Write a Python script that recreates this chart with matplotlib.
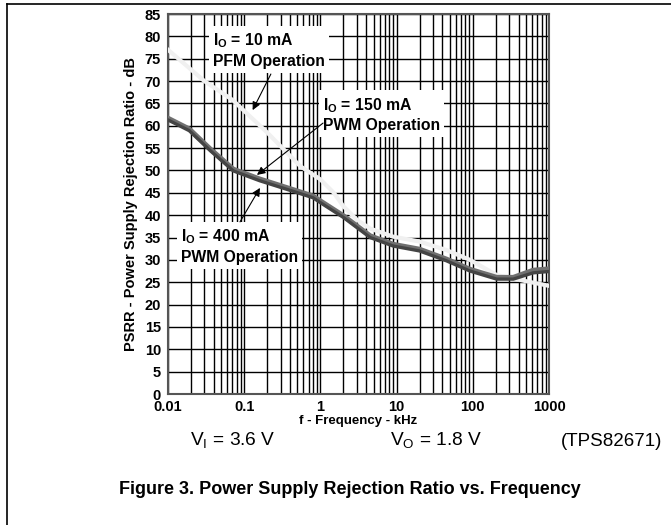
import numpy as np
import matplotlib
matplotlib.use('Agg')
import matplotlib.pyplot as plt
from matplotlib.lines import Line2D
from matplotlib.ticker import FixedLocator, NullFormatter

plt.rcParams['font.family'] = 'Liberation Sans'
plt.rcParams['mathtext.fontset'] = 'custom'
plt.rcParams['mathtext.rm'] = 'Liberation Sans'
plt.rcParams['mathtext.bf'] = 'Liberation Sans:bold'

freq_10ma = [0.01, 0.03, 0.07, 0.2, 0.54, 1.0, 1.5, 2.0, 3.0, 4.5, 9.0, 20.0,
             45.0, 92.0, 206.0, 417.0, 1000.0]
psrr_10ma = [77.0, 70.0, 65.8, 58.5, 51.0, 48.0, 45.0, 42.0, 39.0, 37.0, 35.2,
             34.1, 32.2, 30.0, 26.6, 25.5, 24.2]

freq_150ma = [0.01, 0.019, 0.036, 0.072, 0.16, 0.36, 0.8, 1.0, 2.0, 4.5, 9.0,
              20.0, 45.0, 92.0, 206.0, 340.0, 620.0, 1000.0]
psrr_150ma = [61.7, 59.3, 54.8, 50.3, 48.1, 46.2, 44.3, 43.2, 39.9, 35.4, 33.5,
              32.4, 30.2, 27.9, 26.1, 26.1, 27.7, 28.0]
psrr_400ma = [61.3, 58.9, 54.4, 49.9, 47.7, 45.8, 43.9, 42.8, 39.5, 35.0, 33.1,
              32.0, 29.8, 27.5, 25.7, 25.7, 27.1, 27.4]

yticks = list(range(0, 90, 5))
xticks = [0.01, 0.1, 1, 10, 100, 1000]
xticklabels = ['0.01', '0.1', '1', '10', '100', '1000']

fig = plt.figure(figsize=(6.71, 5.25), dpi=100)
ax = fig.add_axes([168 / 671, 1 - 394 / 525, 381 / 671, 380 / 525])

ax.set_xscale('log')
ax.set_xlim(0.01, 1000)
ax.set_ylim(0, 85)

minors = [m * 10.0 ** e for e in range(-2, 3) for m in range(2, 10)]
ax.xaxis.set_major_locator(FixedLocator(xticks))
ax.xaxis.set_minor_locator(FixedLocator(minors))
ax.xaxis.set_minor_formatter(NullFormatter())
ax.set_xticklabels(xticklabels)
ax.set_yticks(yticks)
ax.grid(True, which='both', axis='x', color='black', lw=1.0)
ax.grid(True, which='major', axis='y', color='black', lw=1.0)
ax.set_axisbelow(True)
ax.tick_params(which='both', length=0, labelsize=10.5)
ax.tick_params(axis='x', pad=4)
ax.tick_params(axis='y', pad=5)
for lab in ax.get_xticklabels() + ax.get_yticklabels():
    lab.set_fontweight('bold')
for sp in ax.spines.values():
    sp.set_color('#555555')
    sp.set_linewidth(1.5)

ax.plot(freq_10ma, psrr_10ma, color='#f0f0f0', lw=3, zorder=3)
ax.plot(freq_150ma, psrr_150ma, color='#707070', lw=3.5, zorder=4)
ax.plot(freq_150ma, psrr_400ma, color='#444444', lw=2.4, zorder=5)

ax.set_xlabel('f - Frequency - kHz', fontsize=9.5, fontweight='bold', labelpad=1)
ax.set_ylabel('PSRR - Power Supply Rejection Ratio - dB', fontsize=10.5,
              fontweight='bold', labelpad=5)

box = dict(boxstyle='square,pad=0.25', fc='white', ec='none')
arrow = dict(arrowstyle='-|>', color='black', lw=0.8, mutation_scale=12,
             shrinkA=0, shrinkB=0)
notes = [
    (r'I$_{\mathbf{O}}$ = 10 mA' + '\nPFM Operation', (0.118, 0.905),
     (0.129, 63.5), (0.270, 0.842)),
    (r'I$_{\mathbf{O}}$ = 150 mA' + '\nPWM Operation', (0.407, 0.735),
     (0.147, 49.0), (0.407, 0.713)),
    (r'I$_{\mathbf{O}}$ = 400 mA' + '\nPWM Operation', (0.034, 0.389),
     (0.161, 46.1), (0.189, 0.453)),
]
for txt, pos, tip, tail in notes:
    ax.annotate('', xy=tip, xycoords='data', xytext=tail,
                textcoords='axes fraction', arrowprops=arrow, zorder=7)
    ax.text(pos[0], pos[1], txt, transform=ax.transAxes, ha='left',
            va='center', fontsize=11.3, fontweight='bold', linespacing=1.3,
            bbox=box, zorder=6)

fig.text(190 / 671, 1 - 441 / 525, r'V$_\mathregular{I}$ = 3.6 V',
         fontsize=13.8, ha='left', va='center')
fig.text(390 / 671, 1 - 441 / 525, r'V$_\mathregular{O}$ = 1.8 V',
         fontsize=13.8, ha='left', va='center')
fig.text(561 / 671, 1 - 441 / 525, '(TPS82671)', fontsize=13.5,
         ha='left', va='center')
fig.text(350 / 671, 1 - 489 / 525,
         'Figure 3. Power Supply Rejection Ratio vs. Frequency',
         fontsize=13, fontweight='bold', ha='center', va='center')

fig.add_artist(Line2D([7 / 671, 1], [1 - 4 / 525, 1 - 4 / 525],
                      transform=fig.transFigure, color='black', lw=1.2))
fig.add_artist(Line2D([7 / 671, 7 / 671], [0, 1 - 4 / 525],
                      transform=fig.transFigure, color='black', lw=1.2))

fig.savefig('out.png', dpi=100)
